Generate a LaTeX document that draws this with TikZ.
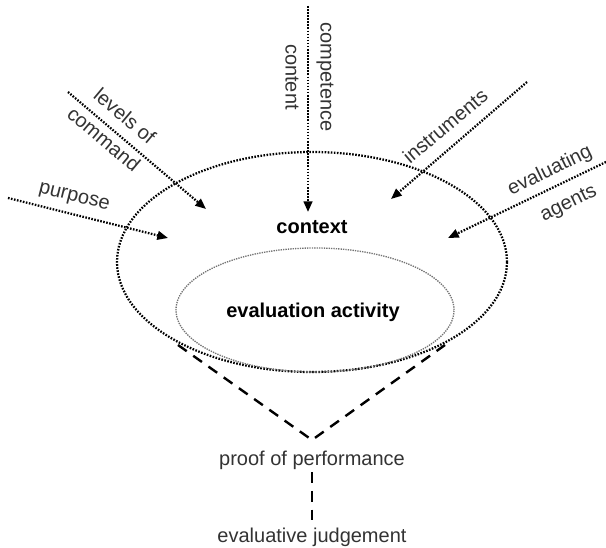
\documentclass[tikz,border=0pt]{standalone}
\usepackage{fontspec}
\setmainfont{Liberation Sans}
\usetikzlibrary{arrows.meta}
\definecolor{txtgray}{HTML}{333333}
\begin{document}
\begin{tikzpicture}[x=0.75pt,y=-0.75pt,
  label/.style={inner sep=0pt,text=txtgray,font=\fontsize{15}{17}\selectfont},
  title/.style={inner sep=0pt,font=\fontsize{15}{17}\selectfont\bfseries},
  dotline/.style={line width=1.7pt,dash pattern=on 1.2pt off 1.1pt},
  influence/.style={dotline,-{Triangle[length=8pt,width=6.5pt]}},
  fine/.style={line width=1pt,dash pattern=on 1pt off 0.8pt,draw=black!55},
  result/.style={line width=1.8pt,dash pattern=on 8pt off 6pt}]
\useasboundingbox (0,0) rectangle (606,548);

% the context (outer bowl) and the evaluation activity (inner ellipse)
\coordinate (ctx) at (312,262);
\coordinate (act) at (315,310);
\draw[dotline] (ctx) ellipse [x radius=146.25pt, y radius=82.5pt];
\draw[fine] (act) ellipse [x radius=104.25pt, y radius=46.5pt];
\node[title] (ctxlab) at (312,227) {context};
\node[title] (actlab) at (313,312) {evaluation activity};

% influences pointing into the context
\coordinate (cs) at (308,6);   \coordinate (ct) at (308,212);
\coordinate (ls) at (68,92);   \coordinate (lt) at (206,209);
\coordinate (ps) at (8,198);   \coordinate (pt) at (168,238);
\coordinate (is) at (527,82);  \coordinate (it) at (391,199);
\coordinate (es) at (606,162); \coordinate (et) at (448,238);

\draw[influence] (cs) -- (ct);
\draw[influence] (ls) -- (lt);
\draw[influence] (ps) -- (pt);
\draw[influence] (is) -- (it);
\draw[influence] (es) -- (et);

\node[label,rotate=-90] (comp) at (325,77) {competence};
\node[label,rotate=-90] (cont) at (292,77) {content};
\node[label,rotate=-40] (lev) at (125,116) {levels of};
\node[label,rotate=-40] (com) at (104,139) {command};
\node[label,rotate=-14] (pur) at (74,198) {purpose};
\node[label,rotate=40] (ins) at (445,126) {instruments};
\node[label,rotate=26] (eva) at (550,171) {evaluating};
\node[label,rotate=26] (age) at (569,204) {agents};

% outcome of the evaluation
\coordinate (vl) at (178,345);
\coordinate (vr) at (445,345);
\coordinate (vb) at (312,440);
\draw[result] (vl) -- (vb) -- (vr);
\node[label] (proof) at (312,460) {proof of performance};
\node[label] (judge) at (312,537) {evaluative judgement};
\draw[result] ([yshift=-2]proof.south) -- (judge.north);
\end{tikzpicture}
\end{document}
